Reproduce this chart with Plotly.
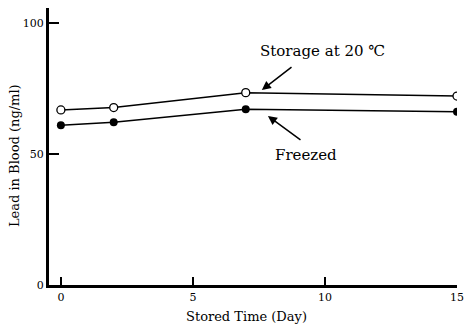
import plotly.graph_objects as go

days = [0, 2, 7, 15]
storage_20c = [66.8, 67.7, 73.4, 72.1]
freezed = [61.0, 62.1, 67.1, 66.1]
x_ticks = [0, 5, 10, 15]
y_ticks = [0, 50, 100]

font = "DejaVu Serif, Liberation Serif, serif"

fig = go.Figure()
fig.add_trace(go.Scatter(x=days, y=storage_20c, mode="lines+markers",
                         line=dict(color="black", width=1.5),
                         marker=dict(symbol="circle", size=8, color="white",
                                     line=dict(color="black", width=1.3)),
                         showlegend=False))
fig.add_trace(go.Scatter(x=days, y=freezed, mode="lines+markers",
                         line=dict(color="black", width=1.5),
                         marker=dict(symbol="circle", size=8, color="black"),
                         showlegend=False))

fig.update_layout(
    width=465, height=326,
    margin=dict(l=49, r=8, t=8, b=41, autoexpand=False),
    paper_bgcolor="white", plot_bgcolor="white",
    font=dict(family=font, color="black", size=12),
    xaxis=dict(range=[-0.45, 15.0], tickvals=x_ticks, ticks="inside", ticklen=8,
               tickwidth=1.5, tickcolor="black", showline=True, linecolor="black",
               linewidth=2.5, showgrid=False, zeroline=False, automargin=False,
               tickfont=dict(size=11, family=font)),
    yaxis=dict(range=[0, 105.7], tickvals=y_ticks, ticks="inside", ticklen=10,
               tickwidth=1.5, tickcolor="black", showline=True, linecolor="black",
               linewidth=3, showgrid=False, zeroline=False, automargin=False,
               tickfont=dict(size=11, family=font)),
    annotations=[
        dict(x=0.485, y=-0.112, xref="paper", yref="paper", xanchor="center", yanchor="middle",
             text="Stored Time (Day)", showarrow=False, font=dict(size=13, family=font)),
        dict(x=-0.0858, y=0.469, xref="paper", yref="paper", xanchor="center", yanchor="middle",
             text="Lead in Blood (ng/ml)", textangle=-90, showarrow=False,
             font=dict(size=13, family=font)),
        dict(x=7.61, y=74.4, ax=8.79, ay=83.6, xref="x", yref="y", axref="x", ayref="y",
             text="", showarrow=True, arrowhead=2, arrowsize=1.2, arrowwidth=1.5, arrowcolor="black"),
        dict(x=9.89, y=89.3, xref="x", yref="y", text="Storage at 20 ℃", showarrow=False,
             font=dict(size=15, family=font)),
        dict(x=7.84, y=64.5, ax=9.13, ay=55.0, xref="x", yref="y", axref="x", ayref="y",
             text="", showarrow=True, arrowhead=2, arrowsize=1.2, arrowwidth=1.5, arrowcolor="black"),
        dict(x=9.28, y=49.6, xref="x", yref="y", text="Freezed", showarrow=False,
             font=dict(size=15, family=font)),
    ],
)

fig.write_html("out.html")
